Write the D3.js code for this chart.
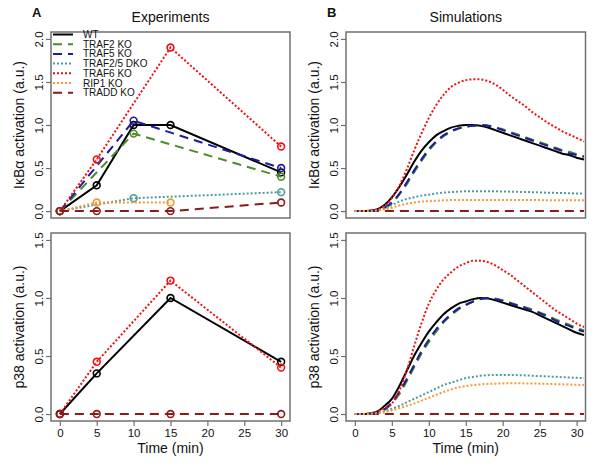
<!DOCTYPE html>
<html lang="en">
<meta charset="utf-8">
<head>
<title>IkBa and p38 activation in knockouts</title>
<script src="https://d3js.org/d3.v7.min.js"></script>
<style>
  body { margin: 0; background: #fff; }
  text { font-family: "Liberation Sans", Arial, sans-serif; fill: #111; }
  .box { fill: none; stroke: #707070; stroke-width: 1.5; }
  .tick line { stroke: #707070; stroke-width: 1.2; }
</style>
</head>
<body>
<div id="chart"></div>
<script>
// series, legend order
var seriesNames  = ["WT", "TRAF2 KO", "TRAF5 KO", "TRAF2/5 DKO", "TRAF6 KO", "RIP1 KO", "TRADD KO"];
var seriesColors = ["#000000", "#4b8b2b", "#1c1c9c", "#4f9b9b", "#f01010", "#f39a32", "#8b1a1a"];
var seriesDash   = [null, "9,6", "9,6", "2,2", "2,2", "2,2", "9,6"];

// experiments (null = not measured)
var expTimes = [0, 5, 10, 15, 30];
var expIkbaWT    = [0, 0.30, 1.00, 1.00, 0.45];
var expIkbaTRAF2 = [0, null, 0.90, null, 0.40];
var expIkbaTRAF5 = [0, null, 1.05, null, 0.50];
var expIkbaDKO   = [0, null, 0.15, null, 0.22];
var expIkbaTRAF6 = [0, 0.60, null, 1.90, 0.75];
var expIkbaRIP1  = [0, 0.10, null, 0.10, null];
var expIkbaTRADD = [0, 0.00, null, 0.00, 0.10];

var expP38WT    = [0, 0.35, null, 1.00, 0.45];
var expP38TRAF6 = [0, 0.45, null, 1.15, 0.40];
var expP38TRADD = [0, 0.00, null, 0.00, 0.00];

// simulations
var simTimes = [0,1,2,3,4,5,6,7,8,9,10,11,12,13,14,15,16,17,18,19,20,21,22,23,24,25,26,27,28,29,30,31];
var simIkbaWT    = [0,0,0.005,0.02,0.07,0.16,0.28,0.42,0.57,0.70,0.80,0.88,0.93,0.97,0.99,1.00,1.00,0.99,0.97,0.94,0.91,0.88,0.85,0.82,0.79,0.76,0.73,0.70,0.67,0.65,0.62,0.60];
var simIkbaTRAF2 = [0,0,0,0.01,0.035,0.09,0.19,0.31,0.45,0.58,0.70,0.80,0.87,0.92,0.96,0.98,0.99,1.00,0.995,0.975,0.95,0.92,0.89,0.86,0.83,0.80,0.77,0.74,0.71,0.69,0.66,0.64];
var simIkbaTRAF5 = [0,0,0,0.01,0.04,0.10,0.20,0.33,0.47,0.60,0.72,0.81,0.88,0.93,0.96,0.98,0.99,1.00,0.99,0.97,0.94,0.91,0.88,0.85,0.82,0.79,0.76,0.73,0.70,0.67,0.65,0.63];
var simIkbaDKO   = [0,0,0.002,0.01,0.03,0.07,0.11,0.14,0.16,0.18,0.19,0.205,0.215,0.22,0.225,0.23,0.23,0.23,0.23,0.23,0.228,0.226,0.224,0.222,0.22,0.217,0.214,0.212,0.21,0.207,0.205,0.203];
var simIkbaTRAF6 = [0,0,0.005,0.02,0.06,0.15,0.29,0.48,0.70,0.90,1.08,1.23,1.35,1.44,1.49,1.52,1.53,1.53,1.51,1.47,1.41,1.34,1.28,1.22,1.15,1.09,1.03,0.98,0.93,0.89,0.85,0.81];
var simIkbaRIP1  = [0,0,0.002,0.008,0.02,0.04,0.065,0.085,0.10,0.11,0.115,0.12,0.125,0.128,0.13,0.13,0.13,0.13,0.13,0.13,0.13,0.13,0.13,0.13,0.129,0.128,0.127,0.126,0.126,0.125,0.125,0.125];
var simIkbaTRADD = [0,0,0,0,0,0,0,0,0,0,0,0,0,0,0,0,0,0,0,0,0,0,0,0,0,0,0,0,0,0,0,0];

var simP38WT    = [0,0,0.005,0.02,0.07,0.13,0.24,0.37,0.50,0.61,0.71,0.79,0.86,0.91,0.95,0.97,0.99,1.00,0.995,0.98,0.96,0.94,0.92,0.90,0.88,0.85,0.82,0.79,0.76,0.73,0.70,0.68];
var simP38TRAF2 = [0,0,0,0.01,0.035,0.09,0.17,0.28,0.40,0.52,0.62,0.71,0.79,0.85,0.90,0.94,0.97,0.99,1.00,0.995,0.98,0.96,0.94,0.92,0.90,0.875,0.85,0.82,0.795,0.77,0.74,0.72];
var simP38TRAF5 = [0,0,0,0.01,0.04,0.10,0.19,0.30,0.42,0.54,0.64,0.73,0.80,0.86,0.91,0.94,0.97,0.99,1.00,0.99,0.975,0.955,0.935,0.915,0.89,0.87,0.84,0.81,0.78,0.76,0.73,0.71];
var simP38DKO   = [0,0,0.002,0.01,0.025,0.045,0.07,0.10,0.13,0.16,0.19,0.22,0.25,0.27,0.29,0.31,0.32,0.33,0.335,0.337,0.337,0.337,0.335,0.333,0.33,0.327,0.324,0.321,0.318,0.315,0.312,0.31];
var simP38TRAF6 = [0,0,0.005,0.02,0.05,0.09,0.20,0.37,0.58,0.78,0.95,1.07,1.16,1.22,1.27,1.30,1.32,1.32,1.31,1.28,1.24,1.20,1.15,1.10,1.05,1.00,0.95,0.90,0.86,0.82,0.78,0.75];
var simP38RIP1  = [0,0,0.002,0.007,0.015,0.03,0.05,0.07,0.09,0.115,0.14,0.165,0.19,0.21,0.23,0.24,0.25,0.255,0.26,0.262,0.264,0.265,0.265,0.264,0.263,0.262,0.26,0.258,0.256,0.254,0.252,0.25];
var simP38TRADD = [0,0,0,0,0,0,0,0,0,0,0,0,0,0,0,0,0,0,0,0,0,0,0,0,0,0,0,0,0,0,0,0];

var xTicks = [0, 5, 10, 15, 20, 25, 30];
var yTicksTop = [0, 0.5, 1.0, 1.5, 2.0];
var yTicksBottom = [0, 0.5, 1.0, 1.5];

var W = 600, H = 463;
var svg = d3.select("#chart").append("svg").attr("width", W).attr("height", H);

var defs = svg.append("defs");
var clipN = 0;

function drawPanel(p) {
    var x = d3.scaleLinear().domain([-1.2, 31.2]).range([p.left, p.right]);
    var y = d3.scaleLinear().domain(p.ydom).range([p.bottom, p.top]);
    var g = svg.append("g");

    var cid = "clip" + (clipN++);
    defs.append("clipPath").attr("id", cid).append("rect")
        .attr("x", p.left).attr("y", p.top)
        .attr("width", p.right - p.left).attr("height", p.bottom - p.top);

    // y axis, labels rotated like base R
    var ya = g.append("g").attr("transform", "translate(" + p.left + ",0)")
        .call(d3.axisLeft(y).tickValues(p.yticks).tickFormat(d3.format(".1f")).tickSize(5));
    ya.select(".domain").remove();
    ya.selectAll("text")
        .attr("transform", "rotate(-90)")
        .attr("x", 0).attr("y", -8).attr("dy", 0)
        .attr("text-anchor", "middle")
        .style("font-size", "11.5px").style("fill", "#111");

    g.append("text")
        .attr("transform", "translate(" + (p.left - 27) + "," + ((p.top + p.bottom) / 2) + ") rotate(-90)")
        .attr("text-anchor", "middle")
        .style("font-size", "14px")
        .text(p.ylabel);

    if (p.xaxis) {
        var xa = g.append("g").attr("transform", "translate(0," + p.bottom + ")")
            .call(d3.axisBottom(x).tickValues(xTicks).tickSize(5).tickPadding(3));
        xa.select(".domain").remove();
        xa.selectAll("text").style("font-size", "11.5px").style("fill", "#111");
        g.append("text")
            .attr("x", (p.left + p.right) / 2).attr("y", p.bottom + 32)
            .attr("text-anchor", "middle")
            .style("font-size", "14px")
            .text("Time (min)");
    }

    var plot = g.append("g").attr("clip-path", "url(#" + cid + ")");
    var line = d3.line()
        .x(function(d) { return x(d.t); })
        .y(function(d) { return y(d.v); });
    if (p.smooth) line.curve(d3.curveMonotoneX);

    p.series.forEach(function(s) {
        var pts = [];
        s.values.forEach(function(v, i) {
            if (v !== null) pts.push({ t: p.times[i], v: v });
        });
        plot.append("path")
            .datum(pts)
            .attr("d", line)
            .attr("fill", "none")
            .attr("stroke", seriesColors[s.k])
            .attr("stroke-width", 2)
            .attr("stroke-dasharray", seriesDash[s.k]);
        if (p.points) {
            plot.selectAll(null)
                .data(pts)
                .enter().append("circle")
                .attr("cx", function(d) { return x(d.t); })
                .attr("cy", function(d) { return y(d.v); })
                .attr("r", 3.4)
                .attr("fill", "none")
                .attr("stroke", seriesColors[s.k])
                .attr("stroke-width", 1.6);
        }
    });

    g.append("rect").attr("class", "box")
        .attr("x", p.left).attr("y", p.top)
        .attr("width", p.right - p.left).attr("height", p.bottom - p.top);

    if (p.title) {
        svg.append("text")
            .attr("x", (p.left + p.right) / 2).attr("y", 22)
            .attr("text-anchor", "middle")
            .style("font-size", "14px")
            .text(p.title);
        svg.append("text")
            .attr("x", p.letterX).attr("y", 17)
            .style("font-size", "13px").style("font-weight", "bold")
            .text(p.letter);
    }
    return { x: x, y: y };
}

var ikbaLabel = "I\u03BAB\u03B1 activation (a.u.)";
var p38Label = "p38 activation (a.u.)";

drawPanel({
    left: 51, right: 290, top: 32, bottom: 218, ydom: [-0.08, 2.08], yticks: yTicksTop,
    ylabel: ikbaLabel, times: expTimes, points: true, smooth: false,
    title: "Experiments", letter: "A", letterX: 32,
    series: [
        { k: 0, values: expIkbaWT }, { k: 1, values: expIkbaTRAF2 }, { k: 2, values: expIkbaTRAF5 },
        { k: 3, values: expIkbaDKO }, { k: 4, values: expIkbaTRAF6 }, { k: 5, values: expIkbaRIP1 },
        { k: 6, values: expIkbaTRADD }
    ]
});

drawPanel({
    left: 51, right: 290, top: 233, bottom: 421, ydom: [-0.06, 1.56], yticks: yTicksBottom,
    ylabel: p38Label, times: expTimes, points: true, smooth: false, xaxis: true,
    series: [
        { k: 0, values: expP38WT }, { k: 4, values: expP38TRAF6 }, { k: 6, values: expP38TRADD }
    ]
});

drawPanel({
    left: 346, right: 585.5, top: 32, bottom: 218, ydom: [-0.08, 2.08], yticks: yTicksTop,
    ylabel: ikbaLabel, times: simTimes, points: false, smooth: true,
    title: "Simulations", letter: "B", letterX: 327,
    series: [
        { k: 6, values: simIkbaTRADD },
        { k: 0, values: simIkbaWT }, { k: 1, values: simIkbaTRAF2 }, { k: 2, values: simIkbaTRAF5 },
        { k: 3, values: simIkbaDKO }, { k: 4, values: simIkbaTRAF6 }, { k: 5, values: simIkbaRIP1 }
    ]
});

drawPanel({
    left: 346, right: 585.5, top: 233, bottom: 421, ydom: [-0.06, 1.56], yticks: yTicksBottom,
    ylabel: p38Label, times: simTimes, points: false, smooth: true, xaxis: true,
    series: [
        { k: 6, values: simP38TRADD },
        { k: 0, values: simP38WT }, { k: 1, values: simP38TRAF2 }, { k: 2, values: simP38TRAF5 },
        { k: 3, values: simP38DKO }, { k: 4, values: simP38TRAF6 }, { k: 5, values: simP38RIP1 }
    ]
});

// legend, top-left of panel A (rows packed tight as in the original)
var legend = svg.append("g");
seriesNames.forEach(function(name, i) {
    var ly = 34.5 + i * 9.7;
    legend.append("line")
        .attr("x1", 53).attr("x2", 73).attr("y1", ly).attr("y2", ly)
        .attr("stroke", seriesColors[i]).attr("stroke-width", 2)
        .attr("stroke-dasharray", seriesDash[i]);
    legend.append("text")
        .attr("x", 83).attr("y", ly).attr("dy", "0.35em")
        .style("font-size", "10px")
        .text(name);
});
</script>
</body>
</html>
